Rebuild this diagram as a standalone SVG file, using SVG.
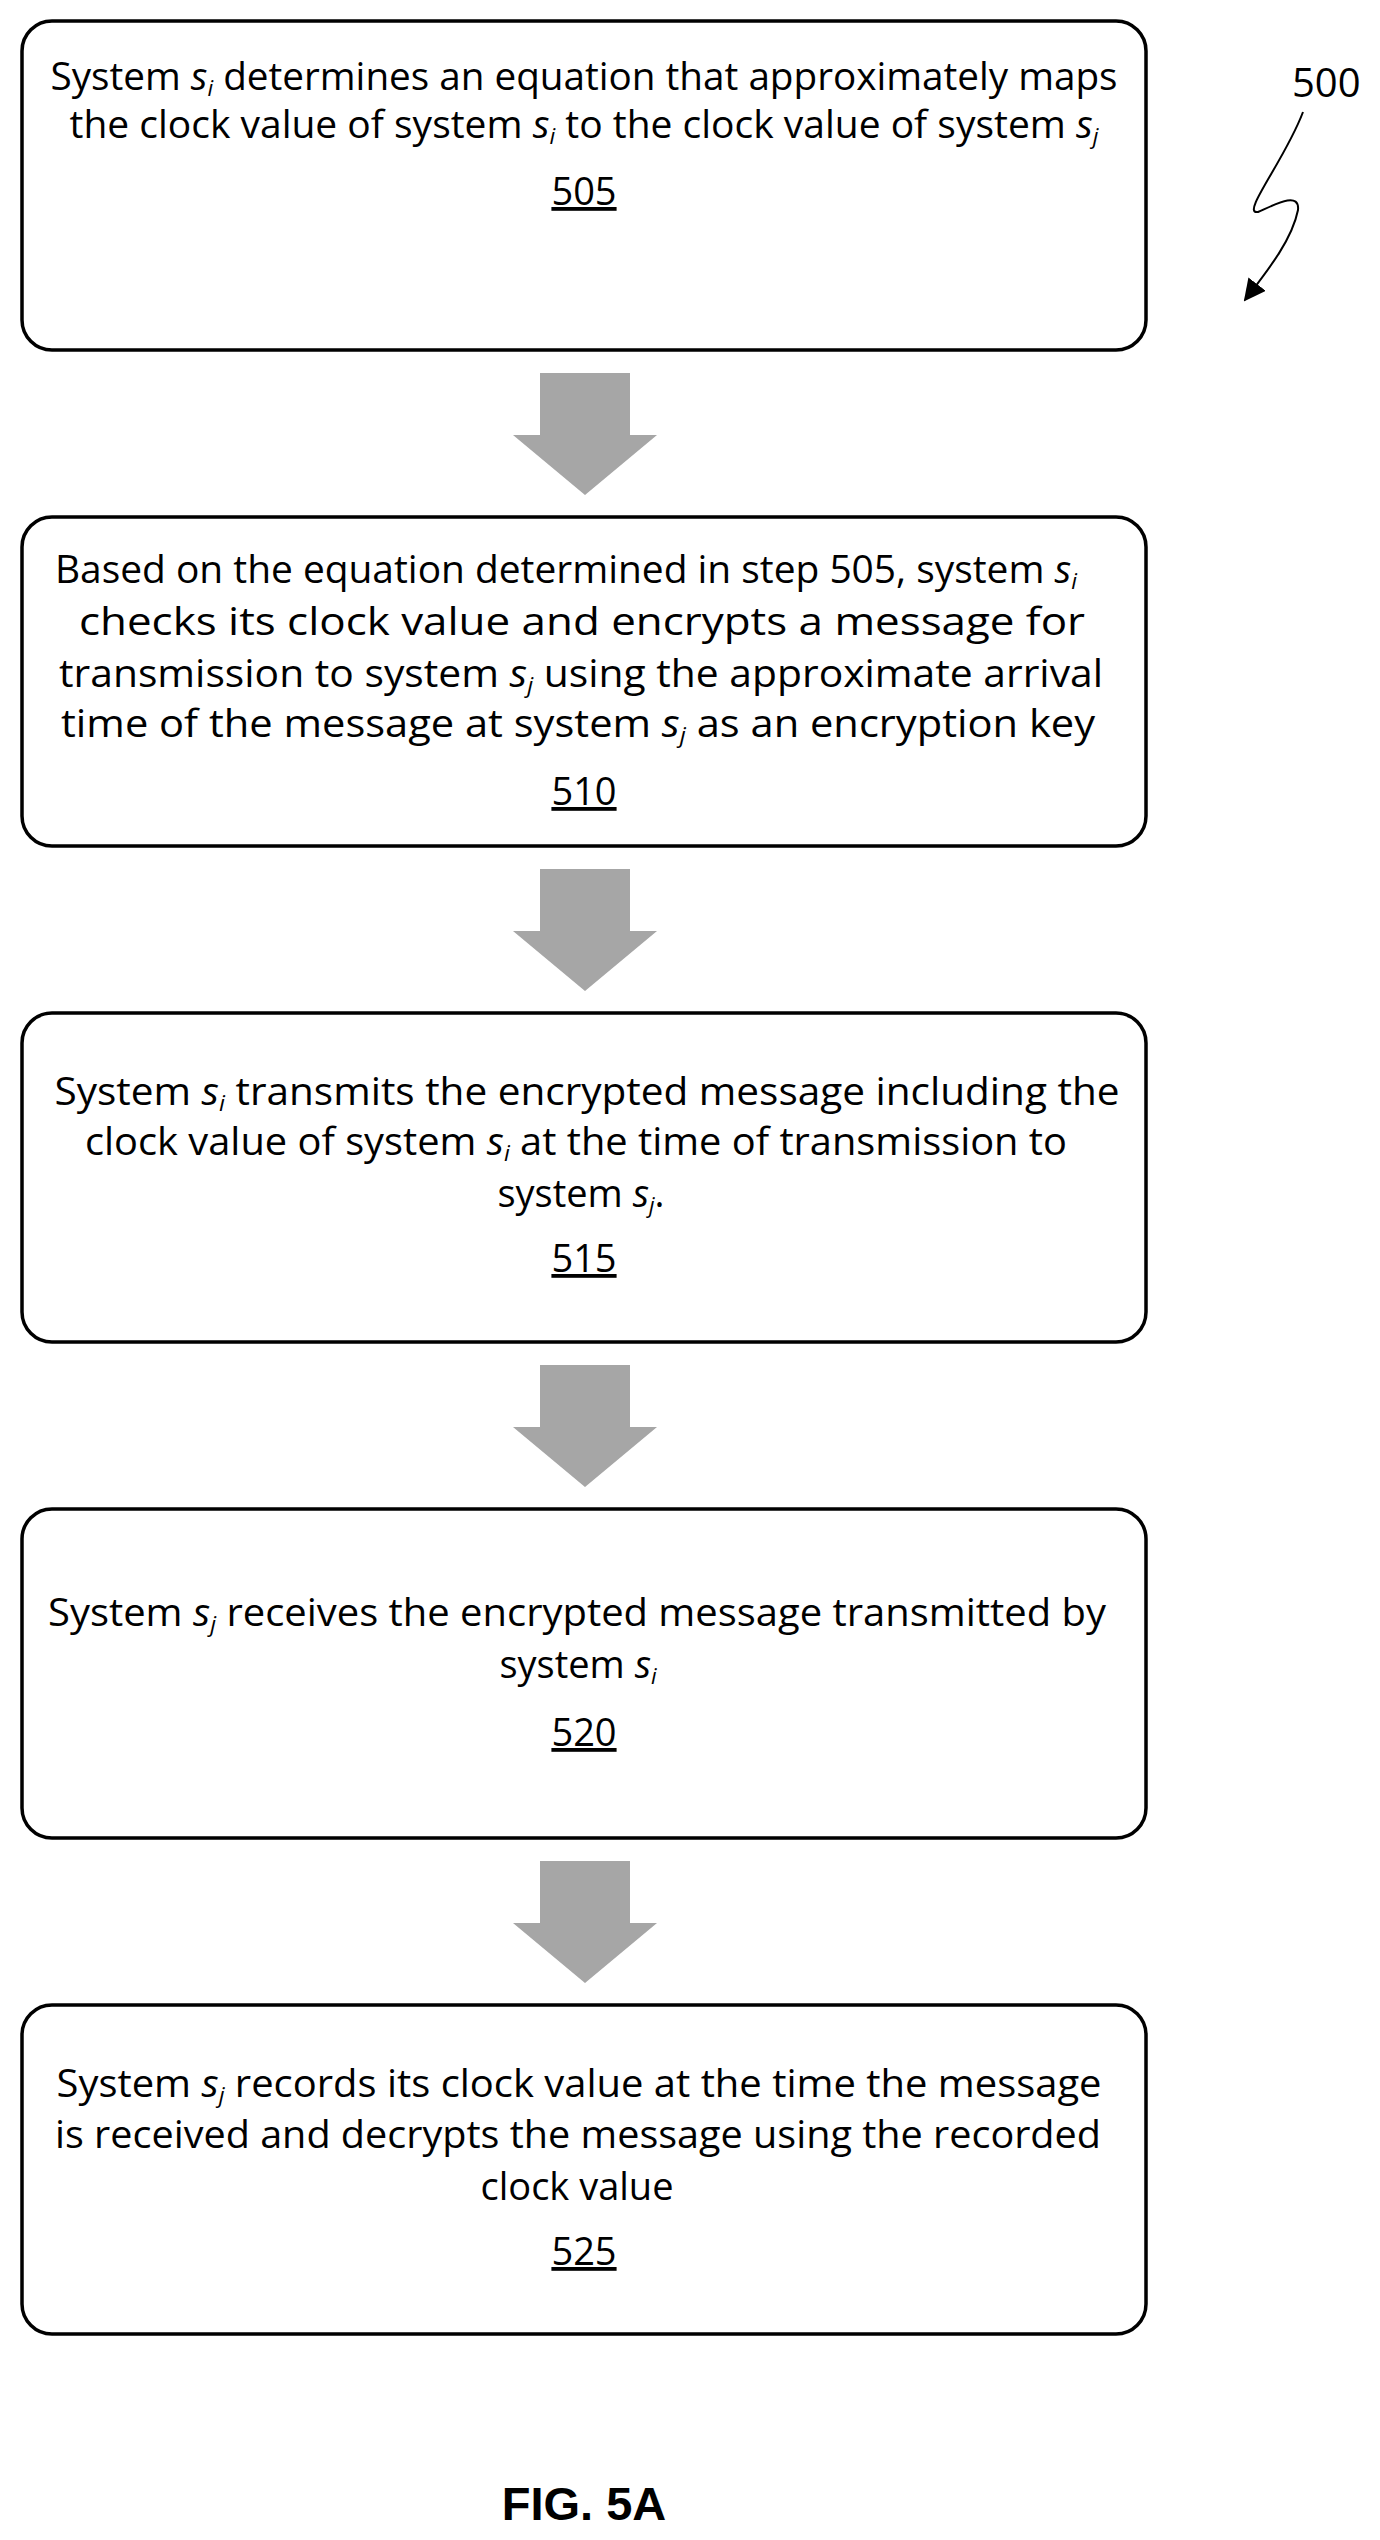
<svg xmlns="http://www.w3.org/2000/svg" width="1380" height="2540" viewBox="0 0 1380 2540">
<style>
.box{fill:#fff;stroke:#000;stroke-width:3.5}
.t{font-family:"Open Sans","Liberation Sans",sans-serif;font-size:38px;fill:#000;text-anchor:middle}
.n{text-decoration:underline}
.s{font-style:italic}
.arr{fill:#a6a6a6}
</style>
<defs>
<marker id="ah2" markerWidth="22" markerHeight="34" refX="20" refY="11" orient="auto" markerUnits="userSpaceOnUse"><path d="M0,0 L22,11 L0,22 z" fill="#000"/></marker>
</defs>
<g id="connectors">
<path class="arr" d="M540,373 H630 V435 H657 L585,495 L513,435 H540 Z"/>
<path class="arr" d="M540,869 H630 V931 H657 L585,991 L513,931 H540 Z"/>
<path class="arr" d="M540,1365 H630 V1427 H657 L585,1487 L513,1427 H540 Z"/>
<path class="arr" d="M540,1861 H630 V1923 H657 L585,1983 L513,1923 H540 Z"/>
</g>
<g id="n505">
<rect class="box" x="22" y="21" width="1124" height="329" rx="30"/>
<text class="t" x="584" y="90" textLength="1067" lengthAdjust="spacingAndGlyphs">System <tspan class="s">s</tspan><tspan class="s" font-size="22" dy="6">i</tspan><tspan dy="-6"> determines an equation that approximately maps</tspan></text>
<text class="t" x="584" y="138" textLength="1029" lengthAdjust="spacingAndGlyphs">the clock value of system <tspan class="s">s</tspan><tspan class="s" font-size="22" dy="6">i</tspan><tspan dy="-6"> to the clock value of system </tspan><tspan class="s">s</tspan><tspan class="s" font-size="22" dy="6">j</tspan></text>
<text class="t n" x="584" y="205">505</text>
</g>
<g id="n510">
<rect class="box" x="22" y="517" width="1124" height="329" rx="30"/>
<text class="t" x="566" y="583" textLength="1022" lengthAdjust="spacingAndGlyphs">Based on the equation determined in step 505, system <tspan class="s">s</tspan><tspan class="s" font-size="22" dy="6">i</tspan></text>
<text class="t" x="582" y="635" textLength="1006" lengthAdjust="spacingAndGlyphs">checks its clock value and encrypts a message for</text>
<text class="t" x="581" y="687" textLength="1044" lengthAdjust="spacingAndGlyphs">transmission to system <tspan class="s">s</tspan><tspan class="s" font-size="22" dy="6">j</tspan><tspan dy="-6"> using the approximate arrival</tspan></text>
<text class="t" x="578" y="737" textLength="1034" lengthAdjust="spacingAndGlyphs">time of the message at system <tspan class="s">s</tspan><tspan class="s" font-size="22" dy="6">j</tspan><tspan dy="-6"> as an encryption key</tspan></text>
<text class="t n" x="584" y="805">510</text>
</g>
<g id="n515">
<rect class="box" x="22" y="1013" width="1124" height="329" rx="30"/>
<text class="t" x="587" y="1105" textLength="1065" lengthAdjust="spacingAndGlyphs">System <tspan class="s">s</tspan><tspan class="s" font-size="22" dy="6">i</tspan><tspan dy="-6"> transmits the encrypted message including the</tspan></text>
<text class="t" x="576" y="1155" textLength="982" lengthAdjust="spacingAndGlyphs">clock value of system <tspan class="s">s</tspan><tspan class="s" font-size="22" dy="6">i</tspan><tspan dy="-6"> at the time of transmission to</tspan></text>
<text class="t" x="581" y="1207">system <tspan class="s">s</tspan><tspan class="s" font-size="22" dy="6">j</tspan><tspan dy="-6">.</tspan></text>
<text class="t n" x="584" y="1272">515</text>
</g>
<g id="n520">
<rect class="box" x="22" y="1509" width="1124" height="329" rx="30"/>
<text class="t" x="577" y="1626" textLength="1058" lengthAdjust="spacingAndGlyphs">System <tspan class="s">s</tspan><tspan class="s" font-size="22" dy="6">j</tspan><tspan dy="-6"> receives the encrypted message transmitted by</tspan></text>
<text class="t" x="578" y="1678">system <tspan class="s">s</tspan><tspan class="s" font-size="22" dy="6">i</tspan></text>
<text class="t n" x="584" y="1746">520</text>
</g>
<g id="n525">
<rect class="box" x="22" y="2005" width="1124" height="329" rx="30"/>
<text class="t" x="579" y="2097" textLength="1045" lengthAdjust="spacingAndGlyphs">System <tspan class="s">s</tspan><tspan class="s" font-size="22" dy="6">j</tspan><tspan dy="-6"> records its clock value at the time the message</tspan></text>
<text class="t" x="578" y="2148" textLength="1046" lengthAdjust="spacingAndGlyphs">is received and decrypts the message using the recorded</text>
<text class="t" x="577" y="2200">clock value</text>
<text class="t n" x="584" y="2265">525</text>
</g>
<g id="label500">
<text x="1292" y="97" style="font-family:'Open Sans','Liberation Sans',sans-serif;font-size:40px">500</text>
<path d="M1303,112 C1285,160 1240,215 1258,212 C1272,206 1300,190 1298,210 C1292,240 1268,270 1245,300" fill="none" stroke="#000" stroke-width="2" marker-end="url(#ah2)"/>
</g>
<text x="584" y="2520" style="font-family:'Liberation Sans',Arial,sans-serif;font-size:47px;font-weight:bold;text-anchor:middle">FIG. 5A</text>
</svg>
